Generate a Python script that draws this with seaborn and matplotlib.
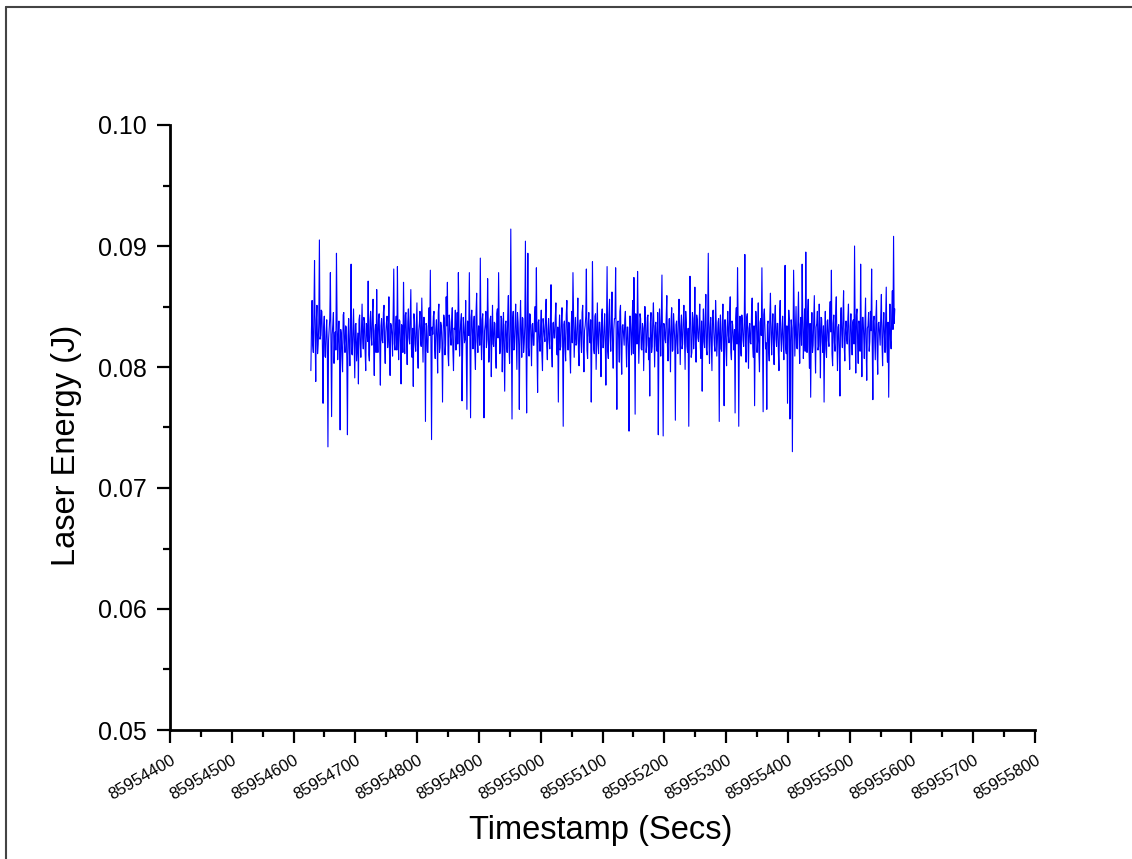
import numpy as np
import pandas as pd
import matplotlib
matplotlib.use("Agg")
import matplotlib.pyplot as plt
from matplotlib.lines import Line2D
from matplotlib.ticker import MultipleLocator
import seaborn as sns

# ---- data ----
start_time = 85954628.0      # first timestamp (s)
sample_interval = 0.9865     # seconds between samples
laser_energy = [
    .0797, .0832, .0855, .0818, .0812, .0844, .0888, .0826, .0788, .0839, .0851, .0811, .0819, .0836, .0905, .0823, .0826, .0847, .0846, .0815,
    .0770, .0833, .0842, .0809, .0808, .0829, .0839, .0817, .0734, .0822, .0831, .0840, .0878, .0813, .0759, .0827, .0835, .0845, .0803, .0821,
    .0829, .0814, .0894, .0838, .0806, .0825, .0838, .0812, .0748, .0831, .0827, .0809, .0796, .0843, .0845, .0820, .0812, .0834, .0833, .0807,
    .0744, .0826, .0840, .0816, .0801, .0837, .0885, .0811, .0810, .0830, .0848, .0818, .0791, .0835, .0836, .0805, .0817, .0828, .0786, .0839,
    .0843, .0819, .0808, .0832, .0852, .0824, .0815, .0841, .0838, .0813, .0797, .0836, .0833, .0821, .0871, .0810, .0805, .0838, .0846, .0825,
    .0818, .0844, .0856, .0816, .0793, .0830, .0835, .0812, .0864, .0827, .0812, .0840, .0844, .0818, .0785, .0834, .0840, .0822, .0820, .0845,
    .0851, .0817, .0803, .0829, .0837, .0842, .0816, .0823, .0858, .0811, .0793, .0836, .0834, .0826, .0809, .0847, .0881, .0819, .0814, .0833,
    .0842, .0814, .0883, .0828, .0806, .0839, .0838, .0820, .0786, .0835, .0829, .0812, .0870, .0830, .0811, .0843, .0845, .0821, .0802, .0837,
    .0848, .0824, .0819, .0840, .0864, .0815, .0808, .0832, .0784, .0844, .0839, .0819, .0813, .0835, .0853, .0811, .0799, .0830, .0836, .0846,
    .0821, .0817, .0857, .0828, .0804, .0841, .0841, .0822, .0755, .0836, .0834, .0813, .0812, .0839, .0849, .0826, .0880, .0818, .0740, .0833,
    .0827, .0842, .0846, .0816, .0807, .0831, .0839, .0823, .0795, .0845, .0852, .0812, .0816, .0837, .0834, .0820, .0771, .0829, .0843, .0840,
    .0810, .0818, .0858, .0834, .0870, .0811, .0801, .0843, .0837, .0825, .0818, .0838, .0849, .0814, .0797, .0832, .0831, .0847, .0814, .0827,
    .0845, .0819, .0878, .0836, .0809, .0828, .0838, .0844, .0772, .0815, .0841, .0833, .0820, .0823, .0855, .0810, .0765, .0838, .0836, .0826,
    .0878, .0817, .0758, .0841, .0847, .0829, .0815, .0836, .0842, .0813, .0798, .0845, .0861, .0821, .0812, .0834, .0833, .0818, .0890, .0828,
    .0806, .0839, .0844, .0816, .0758, .0830, .0835, .0846, .0816, .0822, .0873, .0835, .0804, .0813, .0839, .0842, .0792, .0827, .0851, .0819,
    .0817, .0837, .0836, .0811, .0799, .0844, .0848, .0824, .0878, .0832, .0811, .0815, .0842, .0840, .0796, .0826, .0845, .0812, .0780, .0835,
    .0838, .0821, .0812, .0843, .0859, .0817, .0803, .0831, .0914, .0826, .0757, .0839, .0846, .0814, .0815, .0836, .0852, .0823, .0798, .0845,
    .0837, .0818, .0765, .0832, .0855, .0827, .0808, .0841, .0840, .0812, .0819, .0834, .0904, .0822, .0762, .0838, .0894, .0816, .0809, .0844,
    .0843, .0825, .0801, .0835, .0836, .0818, .0818, .0842, .0850, .0829, .0882, .0814, .0779, .0837, .0839, .0821, .0813, .0833, .0847, .0811,
    .0797, .0840, .0834, .0826, .0821, .0845, .0856, .0817, .0806, .0831, .0840, .0822, .0815, .0838, .0868, .0813, .0800, .0836, .0837, .0824,
    .0824, .0841, .0853, .0819, .0810, .0833, .0771, .0827, .0843, .0814, .0817, .0839, .0849, .0822, .0751, .0835, .0838, .0816, .0805, .0843,
    .0855, .0828, .0814, .0837, .0836, .0812, .0795, .0832, .0846, .0820, .0878, .0840, .0808, .0825, .0841, .0818, .0819, .0836, .0857, .0813,
    .0801, .0834, .0839, .0823, .0812, .0845, .0851, .0817, .0796, .0830, .0834, .0842, .0881, .0814, .0807, .0836, .0845, .0826, .0820, .0839,
    .0771, .0821, .0887, .0833, .0815, .0811, .0842, .0844, .0798, .0828, .0853, .0819, .0811, .0837, .0837, .0825, .0792, .0841, .0848, .0816,
    .0816, .0832, .0844, .0821, .0785, .0838, .0883, .0813, .0807, .0843, .0856, .0826, .0813, .0835, .0862, .0818, .0799, .0831, .0840, .0840,
    .0882, .0815, .0765, .0837, .0838, .0823, .0804, .0846, .0851, .0812, .0794, .0834, .0835, .0827, .0818, .0839, .0846, .0820, .0800, .0833,
    .0833, .0816, .0747, .0842, .0842, .0825, .0810, .0836, .0855, .0811, .0874, .0830, .0761, .0844, .0839, .0819, .0879, .0835, .0803, .0822,
    .0844, .0840, .0815, .0814, .0836, .0832, .0797, .0827, .0850, .0838, .0812, .0818, .0841, .0843, .0806, .0824, .0776, .0836, .0845, .0812,
    .0817, .0839, .0853, .0826, .0800, .0834, .0837, .0817, .0813, .0845, .0744, .0821, .0848, .0832, .0809, .0840, .0876, .0814, .0743, .0836,
    .0835, .0823, .0820, .0842, .0859, .0818, .0805, .0831, .0840, .0825, .0796, .0838, .0849, .0813, .0814, .0844, .0834, .0822, .0756, .0835,
    .0838, .0820, .0811, .0841, .0856, .0828, .0802, .0834, .0843, .0815, .0819, .0839, .0851, .0823, .0798, .0846, .0836, .0817, .0812, .0832,
    .0751, .0826, .0875, .0837, .0808, .0812, .0845, .0840, .0815, .0829, .0866, .0819, .0804, .0843, .0839, .0824, .0821, .0835, .0852, .0816,
    .0807, .0838, .0780, .0827, .0848, .0821, .0816, .0842, .0860, .0814, .0810, .0836, .0894, .0825, .0803, .0833, .0841, .0818, .0797, .0844,
    .0847, .0829, .0818, .0813, .0855, .0837, .0809, .0822, .0837, .0840, .0755, .0828, .0843, .0815, .0813, .0835, .0852, .0821, .0768, .0839,
    .0839, .0817, .0801, .0833, .0846, .0826, .0820, .0844, .0858, .0812, .0806, .0838, .0835, .0823, .0814, .0831, .0762, .0840, .0849, .0819,
    .0882, .0835, .0751, .0827, .0842, .0814, .0809, .0843, .0838, .0822, .0817, .0836, .0893, .0818, .0804, .0841, .0844, .0825, .0799, .0832,
    .0836, .0820, .0819, .0845, .0857, .0816, .0808, .0834, .0768, .0828, .0846, .0839, .0812, .0822, .0853, .0813, .0796, .0837, .0840, .0826,
    .0882, .0817, .0763, .0843, .0848, .0830, .0815, .0820, .0765, .0835, .0838, .0814, .0805, .0842, .0861, .0827, .0810, .0833, .0844, .0818,
    .0802, .0840, .0851, .0823, .0817, .0836, .0836, .0812, .0797, .0844, .0855, .0825, .0813, .0831, .0842, .0819, .0806, .0838, .0884, .0815,
    .0811, .0834, .0770, .0826, .0847, .0840, .0757, .0821, .0839, .0832, .0730, .0817, .0880, .0843, .0809, .0828, .0850, .0816, .0815, .0837,
    .0862, .0822, .0803, .0835, .0841, .0818, .0885, .0840, .0807, .0825, .0848, .0813, .0895, .0832, .0812, .0844, .0856, .0819, .0799, .0836,
    .0775, .0827, .0845, .0812, .0818, .0839, .0859, .0823, .0795, .0833, .0836, .0846, .0814, .0817, .0852, .0830, .0791, .0841, .0840, .0821,
    .0812, .0834, .0771, .0826, .0846, .0815, .0808, .0838, .0839, .0822, .0817, .0843, .0854, .0829, .0880, .0811, .0801, .0836, .0843, .0820,
    .0813, .0845, .0858, .0824, .0797, .0833, .0835, .0814, .0776, .0839, .0849, .0827, .0816, .0842, .0863, .0818, .0805, .0831, .0838, .0823,
    .0819, .0840, .0852, .0816, .0798, .0834, .0844, .0825, .0810, .0837, .0839, .0819, .0900, .0831, .0795, .0843, .0848, .0822, .0803, .0838,
    .0836, .0813, .0885, .0827, .0792, .0841, .0841, .0826, .0807, .0835, .0857, .0817, .0789, .0832, .0834, .0845, .0813, .0821, .0846, .0830,
    .0881, .0818, .0773, .0838, .0842, .0824, .0806, .0841, .0855, .0815, .0794, .0836, .0837, .0828, .0818, .0843, .0860, .0820, .0801, .0834,
    .0845, .0826, .0812, .0840, .0866, .0817, .0804, .0837, .0775, .0829, .0852, .0822, .0815, .0844, .0863, .0831, .0908, .0836, .0848,
]
x_ticks = [85954400, 85954500, 85954600, 85954700, 85954800, 85954900, 85955000,
           85955100, 85955200, 85955300, 85955400, 85955500, 85955600, 85955700, 85955800]
y_ticks = [0.05, 0.06, 0.07, 0.08, 0.09, 0.10]

timestamps = start_time + sample_interval * np.arange(len(laser_energy))
df = pd.DataFrame({"Timestamp": timestamps, "Energy": laser_energy})

# ---- style ----
sns.set_theme(style="ticks")
plt.rcParams["font.family"] = ["Liberation Sans", "DejaVu Sans"]

W, H = 1132, 859
fig = plt.figure(figsize=(W / 100, H / 100), dpi=100)
fig.patch.set_facecolor("white")
ax = fig.add_axes([170 / W, 1 - 730 / H, (1035 - 170) / W, (730 - 125) / H])
ax.set_facecolor("white")

sns.lineplot(data=df, x="Timestamp", y="Energy", ax=ax, color="#0000FF",
             linewidth=0.8, estimator=None, sort=False)

ax.set_xlim(x_ticks[0], x_ticks[-1])
ax.set_ylim(y_ticks[0], y_ticks[-1])
ax.set_xticks(x_ticks)
ax.set_xticklabels([str(t) for t in x_ticks], rotation=30, ha="right",
                   va="top", rotation_mode="anchor", fontsize=12)
ax.set_yticks(y_ticks)
ax.set_yticklabels([f"{v:.2f}" for v in y_ticks], fontsize=18)
ax.xaxis.set_minor_locator(MultipleLocator(50))
ax.yaxis.set_minor_locator(MultipleLocator(0.005))

for s in ["top", "right"]:
    ax.spines[s].set_visible(False)
for s in ["left", "bottom"]:
    ax.spines[s].set_linewidth(2.0)
    ax.spines[s].set_color("black")

ax.tick_params(axis="both", which="major", length=9.5, width=1.6,
               color="black", direction="out")
ax.tick_params(axis="both", which="minor", length=5, width=1.6,
               color="black", direction="out")
ax.tick_params(axis="y", which="major", pad=7, labelcolor="black")
ax.tick_params(axis="x", which="major", pad=7, labelcolor="black")
ax.grid(False)

ax.set_xlabel("Timestamp (Secs)", fontsize=23.5, color="black")
ax.set_ylabel("Laser Energy (J)", fontsize=23.5, color="black")
ax.xaxis.label.set_va("center")
ax.yaxis.label.set_va("center")
ax.xaxis.set_label_coords((601 - 170) / 865, (730 - 830) / 605)
ax.yaxis.set_label_coords((66 - 170) / 865, (730 - 445) / 605)

# figure frame (left and top edges visible)
fig.add_artist(Line2D([6 / W, 6 / W], [0, 1 - 7 / H], transform=fig.transFigure,
                      color="#444444", linewidth=1.5))
fig.add_artist(Line2D([6 / W, 1], [1 - 7 / H, 1 - 7 / H], transform=fig.transFigure,
                      color="#444444", linewidth=1.5))

fig.savefig("out.png", dpi=100, facecolor="white")
